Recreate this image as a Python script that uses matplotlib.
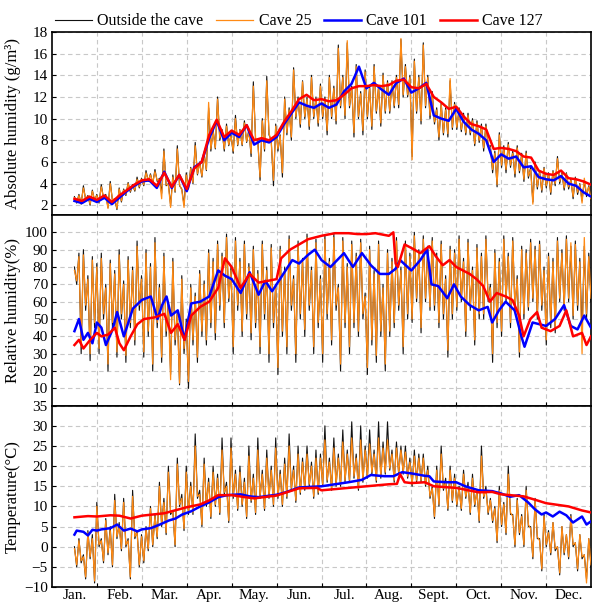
import numpy as np
import matplotlib
matplotlib.use("Agg")
import matplotlib.pyplot as plt

plt.rcParams['font.family'] = 'Liberation Serif'

months = ['Jan.', 'Feb.', 'Mar.', 'Apr.', 'May.', 'Jun.', 'Jul.', 'Aug.', 'Sept.', 'Oct.', 'Nov.', 'Dec.']

# noisy records: high / low reached in each ~3-day window, mid Jan -> end Dec
# absolute humidity (g/m3)
ah_out_hi = [2.8, 3.0, 3.8, 2.9, 3.4, 3.0, 3.9, 3.0, 4.2, 2.6,
             3.6, 3.5, 4.1, 3.9, 4.6, 4.5, 5.2, 4.9, 5.3, 4.5,
             7.2, 4.0, 4.8, 7.5, 3.5, 5.0, 5.5, 7.8, 6.0, 6.8,
             11.0, 9.0, 12.0, 9.0, 9.5, 8.5, 10.3, 9.0, 9.8, 9.0,
             13.4, 8.0, 10.0, 13.9, 8.0, 9.5, 8.5, 12.0, 11.0, 14.7,
             12.0, 13.5, 12.0, 14.0, 12.0, 13.2, 12.0, 14.0, 13.0, 16.8,
             14.0, 17.0, 13.0, 15.0, 12.5, 14.5, 13.0, 15.0, 13.0, 14.2,
             13.5, 13.5, 14.0, 17.3, 15.0, 14.0, 15.5, 14.0, 17.0, 14.0,
             12.5, 11.0, 11.5, 11.0, 13.5, 11.5, 11.0, 10.5, 10.5, 10.0,
             9.8, 9.5, 9.5, 7.5, 7.0, 8.7, 7.5, 7.8, 7.0, 7.5,
             6.8, 7.0, 5.5, 6.0, 5.2, 5.5, 5.0, 5.2, 6.5, 5.0,
             5.0, 4.4, 4.6, 4.0, 4.3, 3.8]
ah_out_lo = [2.2, 2.1, 2.5, 2.0, 2.4, 2.2, 2.6, 1.8, 2.4, 1.6,
             2.3, 2.9, 3.2, 3.3, 3.6, 3.8, 4.2, 4.0, 4.2, 3.1,
             3.8, 2.0, 3.2, 3.8, 2.0, 3.5, 4.0, 4.8, 4.6, 5.2,
             7.0, 7.2, 8.0, 7.0, 7.5, 6.8, 7.5, 7.5, 7.8, 6.5,
             8.0, 4.3, 7.0, 8.5, 3.8, 7.0, 4.6, 8.5, 8.0, 10.0,
             9.2, 10.0, 9.0, 10.0, 9.3, 10.0, 8.5, 10.0, 9.5, 11.0,
             10.0, 11.0, 8.3, 10.0, 8.5, 10.0, 9.0, 10.5, 9.3, 10.5,
             10.5, 11.0, 11.0, 12.0, 12.0, 6.5, 10.5, 9.5, 11.0, 10.0,
             9.5, 8.0, 8.5, 8.3, 9.0, 9.0, 8.8, 8.5, 8.5, 7.5,
             7.8, 7.0, 7.5, 5.0, 3.7, 5.5, 5.0, 5.5, 4.6, 5.0,
             4.2, 4.5, 2.3, 3.5, 3.2, 3.6, 3.0, 3.8, 4.0, 3.4,
             3.5, 2.6, 3.0, 2.4, 2.8, 2.5]
ah_c25_hi = [2.7, 2.9, 3.6, 2.8, 3.3, 2.9, 3.7, 2.9, 4.0, 2.6,
             3.5, 3.4, 4.0, 3.8, 4.4, 4.4, 5.0, 4.8, 5.1, 4.4,
             7.0, 3.9, 4.6, 7.2, 3.4, 4.8, 5.4, 7.5, 5.9, 6.6,
             11.5, 8.8, 11.8, 8.8, 9.3, 8.4, 10.0, 8.9, 9.6, 8.8,
             13.0, 7.8, 9.8, 13.5, 7.8, 9.3, 8.4, 11.8, 10.8, 14.5,
             11.8, 13.4, 11.8, 13.8, 11.8, 13.0, 11.8, 13.8, 12.8, 16.5,
             13.8, 17.2, 12.8, 14.8, 12.3, 14.3, 12.8, 14.8, 12.8, 14.0,
             13.3, 13.4, 13.8, 17.4, 14.8, 13.8, 15.3, 13.8, 16.8, 13.8,
             12.3, 10.8, 11.3, 10.8, 13.7, 11.3, 10.8, 10.3, 10.3, 9.8,
             9.6, 9.3, 9.3, 7.3, 6.8, 8.5, 7.3, 7.6, 6.8, 7.3,
             6.6, 6.8, 5.3, 5.8, 5.0, 5.4, 4.9, 5.1, 6.3, 4.9,
             4.9, 4.3, 4.5, 3.9, 4.5, 3.7]
ah_c25_lo = [2.3, 2.2, 2.6, 2.1, 2.5, 2.3, 2.7, 1.7, 2.5, 1.7,
             2.4, 3.0, 3.3, 3.4, 3.7, 3.9, 4.3, 4.1, 4.3, 2.6,
             3.9, 1.8, 3.3, 3.9, 1.8, 3.6, 4.1, 4.9, 4.7, 5.3,
             7.2, 7.3, 8.2, 7.2, 7.6, 7.0, 7.6, 7.6, 7.9, 6.8,
             8.2, 4.6, 7.2, 8.7, 4.3, 7.2, 5.0, 8.7, 8.3, 10.2,
             9.5, 10.2, 9.3, 10.2, 9.6, 10.2, 8.9, 10.2, 9.8, 11.2,
             10.3, 11.2, 8.7, 10.2, 8.9, 10.2, 9.3, 10.7, 9.6, 10.7,
             10.7, 11.2, 11.3, 12.2, 12.2, 6.2, 10.7, 9.8, 11.2, 10.3,
             9.7, 8.3, 8.7, 8.6, 9.2, 9.2, 9.0, 8.7, 8.7, 7.7,
             8.0, 7.3, 7.7, 5.3, 3.9, 5.7, 5.3, 5.7, 4.9, 5.2,
             4.4, 4.7, 2.1, 3.7, 3.4, 3.8, 3.2, 4.0, 4.2, 3.6,
             3.7, 2.8, 3.2, 2.2, 3.0, 2.6]
# caves 101 / 127 every ~5 days
ah_c101 = [2.4, 2.2, 2.6, 2.3, 2.7, 2.1, 2.7, 3.3, 3.8, 4.2, 4.3, 3.6, 5.1, 3.6, 4.8, 3.3, 5.5, 6.0, 8.2, 9.8,
           8.0, 8.7, 8.3, 9.4, 7.6, 8.0, 7.8, 8.3, 9.5, 10.5, 11.5, 11.2, 11.0, 11.4, 11.0, 11.3, 12.5, 13.2, 14.8, 12.8,
           13.3, 12.7, 12.2, 13.3, 13.7, 12.4, 12.8, 13.3, 10.3, 10.0, 9.8, 10.9, 9.7, 9.0, 8.6, 8.0, 6.0, 6.7, 6.3, 6.5,
           5.5, 5.6, 4.6, 4.4, 4.3, 4.7, 4.0, 3.8, 3.2, 2.8]
ah_c127 = [2.6, 2.4, 2.8, 2.5, 2.9, 2.3, 2.9, 3.4, 3.9, 4.3, 4.4, 3.8, 5.0, 3.7, 4.8, 3.5, 5.4, 6.0, 8.5, 9.9,
           8.3, 8.9, 8.5, 9.4, 8.0, 8.2, 8.0, 8.5, 9.7, 10.7, 11.8, 12.2, 11.7, 11.8, 11.6, 11.7, 12.2, 12.8, 13.0, 13.0,
           13.1, 13.0, 13.1, 13.5, 13.6, 12.9, 12.8, 13.2, 12.0, 11.5, 10.9, 11.1, 10.2, 9.5, 9.3, 9.0, 7.2, 7.3, 7.2, 7.0,
           6.5, 6.4, 5.2, 4.9, 4.8, 5.2, 4.5, 4.4, 4.2, 3.9]

# relative humidity (%)
rh_out_hi = [80, 88, 90, 75, 86, 82, 88, 70, 84, 78,
             90, 72, 86, 80, 95, 75, 90, 82, 97, 70,
             88, 60, 85, 55, 75, 50, 70, 65, 78, 72,
             90, 85, 95, 88, 99, 80, 97, 85, 95, 82,
             92, 78, 95, 80, 93, 70, 92, 80, 98, 75,
             95, 85, 99, 80, 96, 75, 98, 85, 99, 70,
             97, 82, 95, 88, 96, 65, 92, 78, 95, 70,
             90, 85, 97, 80, 95, 88, 100, 90, 98, 92,
             97, 88, 95, 75, 92, 90, 98, 85, 96, 80,
             93, 88, 98, 70, 90, 85, 98, 88, 97, 75,
             92, 90, 96, 92, 95, 80, 88, 85, 97, 90,
             98, 92, 95, 85, 92, 88]
rh_out_lo = [70, 30, 55, 26, 45, 30, 50, 20, 45, 28,
             50, 25, 45, 35, 55, 28, 40, 20, 45, 25,
             40, 18, 35, 12, 30, 10, 35, 25, 40, 35,
             45, 38, 55, 45, 60, 30, 55, 40, 50, 38,
             45, 30, 50, 25, 45, 18, 40, 30, 55, 25,
             50, 40, 55, 30, 45, 25, 50, 35, 55, 20,
             45, 30, 45, 40, 50, 18, 35, 25, 40, 20,
             40, 45, 55, 30, 50, 48, 60, 42, 60, 55,
             55, 45, 50, 28, 50, 55, 60, 40, 55, 35,
             50, 50, 60, 25, 45, 40, 60, 45, 55, 28,
             50, 55, 60, 50, 55, 35, 45, 42, 60, 55,
             60, 50, 55, 40, 50, 60]
rh_c25_hi = [78, 86, 87, 73, 84, 80, 85, 68, 82, 76,
             87, 70, 84, 78, 92, 73, 88, 80, 94, 68,
             86, 58, 83, 53, 73, 48, 68, 63, 76, 70,
             88, 83, 93, 86, 97, 78, 95, 83, 93, 80,
             90, 76, 93, 78, 91, 68, 90, 78, 96, 73,
             93, 83, 97, 78, 94, 73, 96, 83, 97, 68,
             95, 80, 93, 86, 94, 63, 90, 76, 93, 68,
             88, 83, 95, 78, 93, 86, 98, 88, 96, 90,
             95, 86, 93, 73, 90, 88, 96, 83, 94, 78,
             91, 86, 96, 68, 88, 83, 96, 86, 95, 73,
             90, 88, 94, 90, 93, 78, 86, 83, 95, 88,
             96, 94, 93, 83, 97, 86]
rh_c25_lo = [72, 34, 58, 30, 48, 33, 53, 24, 48, 31,
             53, 29, 48, 38, 58, 31, 43, 24, 48, 28,
             43, 15, 38, 13, 33, 14, 38, 28, 43, 38,
             48, 42, 58, 48, 62, 34, 58, 43, 53, 42,
             48, 34, 53, 30, 48, 22, 43, 34, 58, 30,
             53, 44, 58, 34, 48, 30, 53, 38, 58, 24,
             48, 34, 48, 43, 53, 22, 38, 29, 43, 24,
             43, 48, 58, 34, 53, 50, 62, 45, 62, 57,
             58, 48, 53, 32, 53, 57, 62, 43, 58, 38,
             53, 53, 62, 30, 48, 43, 62, 48, 58, 31,
             53, 57, 62, 52, 58, 38, 48, 45, 62, 57,
             62, 52, 58, 30, 53, 62]
rh101_t = [0.5, 0.6, 0.7, 0.8, 0.9, 1.0, 1.1, 1.2, 1.35, 1.45, 1.6, 1.8, 2.0, 2.2, 2.35, 2.45, 2.55, 2.65, 2.8, 2.95,
           3.1, 3.3, 3.5, 3.7, 3.85, 4.0, 4.2, 4.4, 4.6, 4.75, 4.9, 5.0, 5.2, 5.35, 5.5, 5.7, 5.85, 6.0, 6.2, 6.35,
           6.5, 6.7, 6.9, 7.1, 7.3, 7.5, 7.65, 7.75, 8.0, 8.2, 8.35, 8.45, 8.6, 8.8, 8.95, 9.1, 9.3, 9.5, 9.7, 9.8,
           9.95, 10.1, 10.3, 10.45, 10.52, 10.7, 10.85, 11.0, 11.2, 11.4, 11.55, 11.7, 11.85, 12.0]
rh101 = [43, 50, 38, 42, 36, 48, 45, 35, 44, 54, 40, 56, 61, 63, 50, 58, 63, 52, 55, 38,
         59, 60, 63, 78, 75, 73, 65, 77, 64, 72, 66, 70, 78, 84, 82, 87, 90, 84, 80, 84,
         88, 80, 88, 81, 76, 76, 79, 84, 78, 84, 90, 70, 69, 62, 70, 63, 58, 55, 57, 48,
         55, 60, 55, 40, 34, 48, 47, 46, 50, 58, 46, 44, 52, 45]
rh127_t = [0.5, 0.6, 0.7, 0.85, 1.0, 1.1, 1.25, 1.4, 1.5, 1.6, 1.75, 1.9, 2.05, 2.3, 2.5, 2.65, 2.8, 2.95, 3.1, 3.3,
           3.5, 3.7, 3.85, 4.0, 4.2, 4.4, 4.6, 4.8, 5.0, 5.1, 5.3, 5.5, 5.7, 6.0, 6.3, 6.6, 6.8, 7.0, 7.2, 7.5,
           7.6, 7.65, 7.7, 7.85, 8.0, 8.2, 8.4, 8.55, 8.7, 8.85, 9.0, 9.15, 9.3, 9.45, 9.6, 9.75, 9.9, 10.1, 10.25, 10.4,
           10.5, 10.65, 10.8, 10.9, 11.1, 11.3, 11.45, 11.6, 11.8, 11.9, 12.0]
rh127 = [35, 38, 33, 38, 42, 40, 41, 45, 36, 32, 40, 47, 50, 51, 53, 42, 47, 38, 52, 57,
         60, 68, 85, 80, 68, 76, 71, 72, 73, 85, 90, 93, 96, 98, 99.5, 99.5, 99, 99, 99.5, 98,
         100, 82, 80, 93, 91, 88, 92, 86, 81, 84, 80, 78, 76, 73, 69, 60, 65, 63, 61, 52,
         40, 50, 54, 45, 43, 46, 55, 40, 42, 35, 40]

# temperature (°C)
t_out_hi = [0, 2, -2, 4, 3, 11, 2, 7, 5, 13,
            6, 12, 2, 14, 4, 3, 5, 10, 8, 16,
            12, 20, 9, 22, 13, 20, 16, 28, 14, 22,
            17, 20, 18, 27, 16, 27, 19, 20, 17, 25,
            18, 27, 19, 24, 20, 27, 19, 22, 28, 20,
            25, 22, 25, 21, 24, 23, 30, 22, 27, 23,
            29, 24, 31, 23, 30, 25, 29, 24, 31, 26,
            31, 24, 26, 25, 25, 22, 24, 23, 23, 20,
            15, 20, 25, 17, 20, 18, 15, 19, 16, 18,
            14, 25, 15, 12, 10, 15, 11, 20, 8, 12,
            8, 15, 5, 12, 2, 8, 4, 6, 0, 5,
            3, 8, 1, 3, -2, 2]
t_out_lo = [-5, -4, -8, -3, -9, 0, -4, -2, -5, 2,
            -1, 0, -8, 2, -5, -4, -1, 0, 2, 5,
            3, 8, 0, 10, 4, 8, 8, 12, 5, 10,
            7, 10, 8, 13, 6, 12, 9, 10, 7, 11,
            8, 12, 9, 12, 10, 12, 10, 12, 14, 11,
            13, 14, 15, 12, 13, 15, 16, 14, 15, 15,
            16, 16, 17, 14, 16, 17, 18, 16, 17, 18,
            19, 16, 18, 18, 17, 15, 16, 16, 15, 12,
            7, 10, 14, 9, 11, 10, 9, 12, 8, 10,
            6, 12, 8, 6, 1, 5, 3, 8, 0, 3,
            0, 5, -3, 2, -6, 0, -2, -1, -7, -2,
            -3, 0, -6, -3, -8, -5]
t_c25_hi = [-0.5, 1.5, -2.5, 3.5, 2, 10, 1.5, 6.5, 4, 11.5,
            5, 11, 1.5, 12.5, 3.5, 2.5, 4.5, 9.5, 7.5, 15,
            11, 18.5, 8.5, 20.5, 12, 18.5, 15, 25, 13, 20.5,
            16, 18.5, 17, 24, 15, 24.5, 18, 18.5, 16, 22.5,
            17, 24, 18, 22, 19, 24.5, 18, 20.5, 25, 19,
            23, 21, 23, 20, 22, 22, 26.5, 21, 24.5, 22,
            26, 23, 27, 22, 26.5, 24, 25.5, 23, 27, 24.5,
            26.5, 23, 24.5, 24, 23.5, 21, 22.5, 22, 22, 19,
            14.5, 19, 23, 16, 19, 17, 14.5, 18, 15, 17,
            13.5, 22.5, 14, 11.5, 9.5, 14, 10.5, 18, 7.5, 11.5,
            7.5, 14, 4.5, 11.5, 1.5, 7.5, 3.5, 6, 0, 5,
            3, 7.5, 1, 3, -2, 2]
t_c25_lo = [-4.5, -3.5, -7.5, -2.5, -8.5, 0.5, -3.5, -1.5, -4.5, 2.5,
            -0.5, 0.5, -7.5, 2.5, -4.5, -3.5, -0.5, 0.5, 2.5, 5.5,
            3.5, 8.5, 0.5, 10.5, 4.5, 8.5, 8.5, 12.5, 5.5, 10.5,
            7.5, 10.5, 8.5, 13.5, 6.5, 12.5, 9.5, 10.5, 7.5, 11.5,
            8.5, 12.5, 9.5, 12.5, 10.5, 12.5, 10.5, 12.5, 14.5, 11.5,
            13.5, 14.5, 15.5, 12.5, 13.5, 15.5, 16.5, 14.5, 15.5, 15.5,
            16.5, 16.5, 17.5, 14.5, 16.5, 17.5, 18.5, 16.5, 17.5, 18.5,
            19.5, 16.5, 18.5, 18.5, 17.5, 15.5, 16.5, 16.5, 15.5, 12.5,
            7.5, 10.5, 14.5, 9.5, 11.5, 10.5, 9.5, 12.5, 8.5, 10.5,
            6.5, 12.5, 8.5, 6.5, 1.5, 5.5, 3.5, 8.5, 0.5, 3.5,
            0.5, 5.5, -2.5, 2.5, -5.5, 0.5, -1.5, -0.5, -6.5, -1.5,
            -2.5, 0.5, -5.5, -2.5, -9, -4.5]
t101_t = [0.5, 0.55, 0.7, 0.8, 0.9, 1.0, 1.1, 1.3, 1.45, 1.6, 1.75, 1.9, 2.0, 2.2, 2.4, 2.6, 2.75, 2.9, 3.1, 3.3,
          3.5, 3.7, 3.9, 4.2, 4.4, 4.6, 5.0, 5.2, 5.5, 6.0, 6.3, 6.6, 6.9, 7.1, 7.4, 7.6, 7.8, 8.0, 8.3, 8.4,
          8.5, 8.8, 9.0, 9.2, 9.5, 9.8, 10.0, 10.2, 10.4, 10.6, 10.75, 10.9, 11.0, 11.15, 11.3, 11.45, 11.6, 11.8, 11.9, 12.0]
t101 = [3.0, 4.0, 3.7, 2.8, 4.2, 4.0, 4.3, 4.6, 5.5, 4.0, 4.5, 3.8, 4.3, 4.6, 5.5, 6.5, 7.0, 8.0, 8.8, 10.0,
        11.0, 12.3, 12.8, 13.0, 12.5, 12.3, 12.9, 13.5, 14.7, 15.0, 15.5, 16.0, 16.6, 17.8, 17.5, 17.5, 18.5, 18.2, 17.6, 17.5,
        16.2, 16.0, 16.0, 15.0, 14.0, 13.8, 13.2, 12.4, 12.8, 11.0, 9.3, 8.0, 8.5, 7.5, 8.7, 7.8, 6.0, 7.5, 5.5, 6.3]
t127_t = [0.5, 0.8, 1.0, 1.3, 1.5, 1.75, 2.0, 2.5, 3.0, 3.3, 3.5, 3.7, 4.0, 4.3, 4.5, 5.0, 5.5, 5.9, 6.0, 6.5,
          7.0, 7.5, 7.68, 7.75, 7.85, 8.0, 8.3, 8.5, 9.0, 9.5, 9.8, 10.0, 10.5, 10.8, 11.0, 11.5, 11.8, 12.0]
t127 = [7.3, 7.6, 7.5, 7.8, 7.7, 7.0, 7.7, 8.3, 9.8, 10.5, 11.5, 12.8, 12.8, 12.3, 12.0, 12.7, 14.5, 14.6, 14.0, 14.5,
        15.0, 15.5, 15.6, 18.0, 16.0, 15.8, 16.0, 15.0, 14.6, 13.5, 13.6, 13.0, 12.5, 11.5, 10.8, 10.0, 9.0, 8.5]


def hilo(hi, lo):
    # alternate the high and low of each window along the time axis
    n = min(len(hi), len(lo))
    y = np.column_stack([hi[:n], lo[:n]]).ravel()
    return np.linspace(0.5, 12.0, len(y)), y


def tgrid(vals):
    return np.linspace(0.5, 12.0, len(vals))


C_OUT, C_25, C_101, C_127 = '#111111', '#ff8a14', '#0000ff', '#ff0000'

fig = plt.figure(figsize=(5.92, 6.04), dpi=100)
L, W = 52 / 592, 539 / 592
ax1 = fig.add_axes([L, 1 - 215 / 604, W, 183 / 604])
ax2 = fig.add_axes([L, 1 - 405.7 / 604, W, 190.7 / 604])
ax3 = fig.add_axes([L, 1 - 587 / 604, W, 181.3 / 604])

panels = [
    (ax1, hilo(ah_out_hi, ah_out_lo), hilo(ah_c25_hi, ah_c25_lo), (tgrid(ah_c101), ah_c101), (tgrid(ah_c127), ah_c127)),
    (ax2, hilo(rh_out_hi, rh_out_lo), hilo(rh_c25_hi, rh_c25_lo), (rh101_t, rh101), (rh127_t, rh127)),
    (ax3, hilo(t_out_hi, t_out_lo), hilo(t_c25_hi, t_c25_lo), (t101_t, t101), (t127_t, t127)),
]
for ax, out, c25, c101, c127 in panels:
    ax.plot(out[0], out[1], color=C_OUT, lw=0.8, zorder=2, label='Outside the cave')
    ax.plot(c25[0], c25[1], color=C_25, lw=0.9, zorder=3, label='Cave 25')
    ax.plot(c101[0], c101[1], color=C_101, lw=1.8, zorder=4, label='Cave 101')
    ax.plot(c127[0], c127[1], color=C_127, lw=1.8, zorder=5, label='Cave 127')
    ax.set_xlim(0, 12)
    ax.set_xticks(np.arange(1, 12))
    ax.set_xticks(np.arange(0.5, 12, 1), minor=True)
    ax.tick_params(axis='x', which='major', direction='in', length=3, labelbottom=False)
    ax.tick_params(axis='x', which='minor', length=0, labelbottom=False)
    ax.tick_params(axis='y', direction='in', length=3, labelsize=11, pad=3)
    ax.grid(True, which='major', ls=(0, (4, 3)), color='#c8c8c8', lw=0.8, zorder=0)
    for s in ax.spines.values():
        s.set_linewidth(1.2)

ax1.set_ylim(1.1, 18)
ax1.set_yticks(np.arange(2, 19, 2))
ax1.set_ylabel('Absolute humidity (g/m³)', fontsize=12)

ax2.set_ylim(0, 110)
ax2.set_yticks(np.arange(10, 101, 10))
ax2.set_ylabel('Relative humidity(%)', fontsize=12)

ax3.set_ylim(-10, 35)
ax3.set_yticks(np.arange(-10, 36, 5))
ax3.set_ylabel('Temperature(°C)', fontsize=12)
ax3.set_xticklabels(months, minor=True)
ax3.tick_params(axis='x', which='minor', labelbottom=True, labelsize=11, pad=1.5)

for ax in (ax1, ax2, ax3):
    ax.yaxis.set_label_coords(-0.058, 0.5)

handles, labels = ax1.get_legend_handles_labels()
fig.legend(handles, labels, loc='center', bbox_to_anchor=(0.505, 0.965), ncol=4, frameon=False,
           fontsize=11.5, handlelength=2.3, columnspacing=0.8, handletextpad=0.35)

fig.savefig('out.png', dpi=100)
